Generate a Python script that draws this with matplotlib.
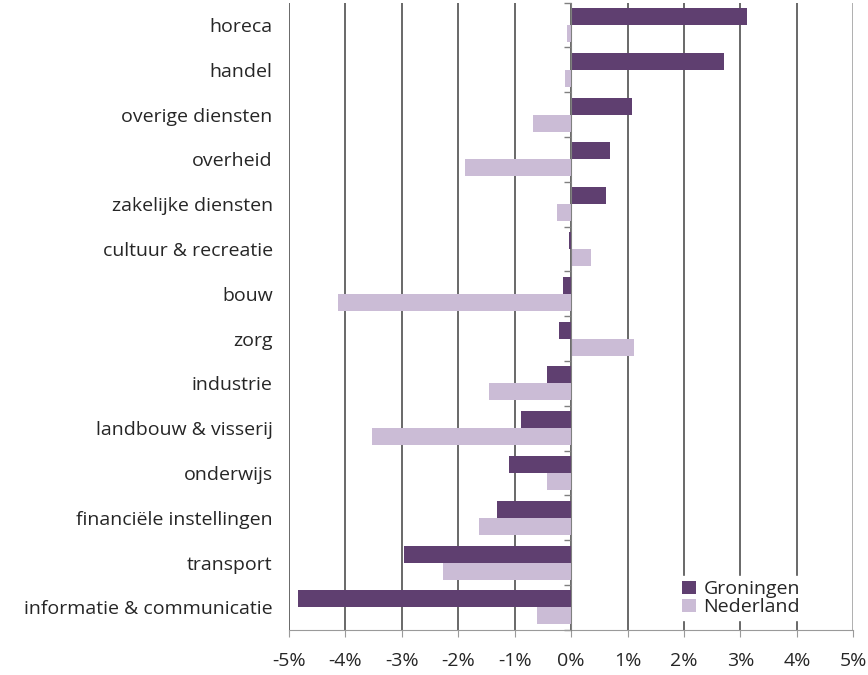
import matplotlib
matplotlib.use("Agg")
from matplotlib import pyplot as plt
import matplotlib.transforms as mtransforms
import numpy as np

plt.rcParams['font.family'] = ['Open Sans', 'DejaVu Sans']

sectoren = ['horeca', 'handel', 'overige diensten', 'overheid', 'zakelijke diensten',
            'cultuur & recreatie', 'bouw', 'zorg', 'industrie', 'landbouw & visserij',
            'onderwijs', 'financiële instellingen', 'transport', 'informatie & communicatie']
groningen = [3.11, 2.71, 1.07, 0.68, 0.61, -0.03, -0.15, -0.22, -0.43, -0.89, -1.11, -1.32, -2.96, -4.84]
nederland = [-0.07, -0.11, -0.68, -1.89, -0.25, 0.36, -4.13, 1.11, -1.46, -3.53, -0.43, -1.64, -2.28, -0.61]
xticks = [-5, -4, -3, -2, -1, 0, 1, 2, 3, 4, 5]

paars = '#5f3f70'
lila = '#cbbcd6'
fs = 14

fig = plt.figure(figsize=(8.68, 6.75), dpi=100)
ax = fig.add_axes([0.333, 0.067, 0.650, 0.929])

y = np.arange(len(sectoren))
h = 0.38
ax.barh(y - h / 2, groningen, height=h, color=paars, label='Groningen', zorder=3)
ax.barh(y + h / 2, nederland, height=h, color=lila, label='Nederland', zorder=3)

ax.set_xlim(-5, 5)
ax.set_ylim(len(sectoren) - 0.5, -0.5)

# gridlines
for v in xticks:
    kleur = '#9a9a9a' if v == 5 else '#404040'
    ax.axvline(v, color=kleur, lw=1.1, zorder=1)

# y-as op 0 met streepjes tussen de categorieen
ax.spines['left'].set_position(('data', 0))
ax.spines['left'].set_color('#808080')
ax.spines['left'].set_zorder(4)
ax.spines['right'].set_visible(False)
ax.spines['top'].set_visible(False)
ax.spines['bottom'].set_color('#9a9a9a')
ax.set_yticks(np.arange(len(sectoren) + 1) - 0.5)
ax.set_yticklabels([])
ax.tick_params(axis='y', direction='out', length=5, color='#808080', width=1)

trans = mtransforms.blended_transform_factory(ax.transAxes, ax.transData)
for i, s in enumerate(sectoren):
    ax.text(-0.029, i, s, transform=trans, ha='right', va='center_baseline',
            fontsize=fs, color='#262626')

ax.set_xticks(xticks)
ax.set_xticklabels([f'{v}%' for v in xticks], fontsize=fs, color='#262626')
ax.tick_params(axis='x', direction='out', length=5, color='#9a9a9a', pad=11)

leg = ax.legend(loc='lower right', bbox_to_anchor=(0.93, 0.0), frameon=True,
                fancybox=False, edgecolor='white', facecolor='white', framealpha=1,
                fontsize=fs, handlelength=0.7, handleheight=0.7, handletextpad=0.4,
                labelspacing=0.0, borderpad=0.2, borderaxespad=0.5)
for t in leg.get_texts():
    t.set_color('#262626')

fig.savefig('out.png', dpi=100)
